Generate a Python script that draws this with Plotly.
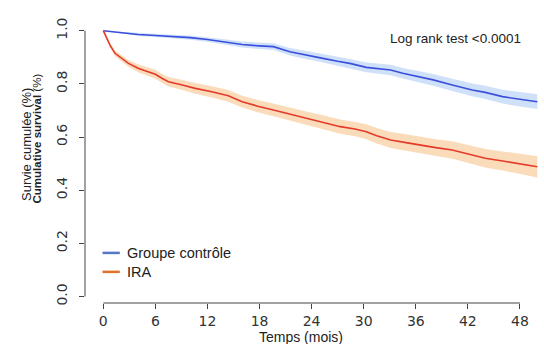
import plotly.graph_objects as go

# ---- data ----
blue_t = [0, 2, 4, 6, 8, 10, 12, 14, 16, 18, 19.6, 21.5, 23, 25.3, 27, 28.4, 30.3, 32,
          33.1, 34.5, 36.4, 38, 40.2, 42.5, 44, 46, 48, 50]
blue_s = [1.0, 0.993, 0.986, 0.982, 0.978, 0.974, 0.967, 0.958, 0.948, 0.943, 0.940, 0.921,
          0.910, 0.896, 0.885, 0.877, 0.862, 0.856, 0.852, 0.840, 0.827, 0.815, 0.796, 0.777,
          0.768, 0.752, 0.742, 0.733]
blue_hw = [0.0, 0.003, 0.005, 0.006, 0.007, 0.008, 0.009, 0.010, 0.011, 0.012, 0.013, 0.014,
           0.015, 0.016, 0.017, 0.017, 0.018, 0.019, 0.020, 0.020, 0.021, 0.022, 0.023, 0.024,
           0.025, 0.026, 0.027, 0.028]

red_t = [0, 0.4, 0.77, 1.35, 2.1, 2.9, 4.07, 5.2, 6.0, 6.75, 7.5, 9.1, 10.6, 12.5, 14.4, 16.0,
         17.8, 19.6, 21.5, 23.5, 25.3, 27.3, 29, 30.3, 31.5, 33.1, 34.7, 36.4, 38.3, 40.2, 42,
         44.0, 46, 48, 50]
red_s = [1.0, 0.970, 0.946, 0.915, 0.896, 0.877, 0.858, 0.846, 0.836, 0.821, 0.808, 0.796,
         0.783, 0.770, 0.755, 0.733, 0.716, 0.702, 0.686, 0.670, 0.656, 0.639, 0.630, 0.620,
         0.605, 0.589, 0.580, 0.570, 0.560, 0.551, 0.537, 0.520, 0.510, 0.498, 0.488]
red_hw = [0.0, 0.006, 0.009, 0.011, 0.012, 0.013, 0.015, 0.016, 0.017, 0.017, 0.018, 0.019,
          0.020, 0.021, 0.022, 0.022, 0.023, 0.024, 0.024, 0.025, 0.026, 0.027, 0.027, 0.028,
          0.029, 0.030, 0.031, 0.031, 0.032, 0.033, 0.034, 0.035, 0.036, 0.038, 0.040]

x_ticks = [0, 6, 12, 18, 24, 30, 36, 42, 48]
y_ticks = [0.0, 0.2, 0.4, 0.6, 0.8, 1.0]
y_ticklabels = ["0.0", "0.2", "0.4", "0.6", "0.8", "1.0"]

groups = [
    ("Groupe contrôle", blue_t, blue_s, blue_hw, "#3B4FDD", "rgba(175,205,245,0.6)", "#5577C8"),
    ("IRA", red_t, red_s, red_hw, "#E53A2A", "rgba(246,196,140,0.6)", "#E0702A"),
]

fig = go.Figure()
for name, t, s, hw, lc, bc, _ in groups:
    lower = [v - h for v, h in zip(s, hw)]
    upper = [v + h for v, h in zip(s, hw)]
    fig.add_trace(go.Scatter(x=t, y=lower, mode="lines", line=dict(width=0),
                             showlegend=False, hoverinfo="skip"))
    fig.add_trace(go.Scatter(x=t, y=upper, mode="lines", line=dict(width=0),
                             fill="tonexty", fillcolor=bc, showlegend=False, hoverinfo="skip"))
for name, t, s, hw, lc, bc, _ in groups:
    fig.add_trace(go.Scatter(x=t, y=s, mode="lines", line=dict(color=lc, width=1.6),
                             name=name, showlegend=False))

axis_col = "#444444"
tick_font = dict(family="DejaVu Sans", size=14, color="#333333")

fig.update_layout(
    width=544, height=344,
    margin=dict(l=85, r=4, t=20, b=41, autoexpand=False),
    paper_bgcolor="white", plot_bgcolor="white",
    xaxis=dict(range=[-2.108, 50.31], tickvals=x_ticks, ticks="outside", ticklen=5,
               tickcolor=axis_col, showgrid=False, zeroline=False, showline=False,
               tickfont=tick_font, automargin=False),
    yaxis=dict(range=[-0.02445, 1.0403], tickvals=y_ticks, ticktext=y_ticklabels,
               ticks="outside", ticklen=5, tickcolor=axis_col, showgrid=False,
               zeroline=False, showline=False, tickangle=-90, tickfont=tick_font,
               ticklabelstandoff=6, automargin=False),
    showlegend=False,
)

# R-style axis lines spanning only the tick range
fig.add_shape(type="line", xref="paper", yref="y", x0=0, x1=0, y0=y_ticks[0], y1=y_ticks[-1],
              line=dict(color=axis_col, width=1))
fig.add_shape(type="line", xref="x", yref="paper", x0=x_ticks[0], x1=x_ticks[-1], y0=0, y1=0,
              line=dict(color=axis_col, width=1))

txt = dict(family="Liberation Sans, Arial, sans-serif", color="#222222")
fig.add_annotation(text="Temps (mois)", xref="paper", yref="paper", x=0.4747, y=-0.120,
                   xanchor="center", yanchor="middle", showarrow=False, font=dict(size=14, **txt))
fig.add_annotation(text="Survie cumulée (%)", xref="paper", yref="paper", x=-0.1297, y=0.5618,
                   textangle=-90, xanchor="center", yanchor="middle", showarrow=False,
                   font=dict(size=13, **txt))
fig.add_annotation(text="<b>Cumulative survival</b> (%)", xref="paper", yref="paper", x=-0.1044,
                   y=0.583, textangle=-90, xanchor="center", yanchor="middle", showarrow=False,
                   font=dict(size=11.5, **txt))
fig.add_annotation(text="Log rank test <0.0001", xref="paper", yref="paper", x=0.9626, y=0.936,
                   xanchor="right", yanchor="middle", showarrow=False, font=dict(size=13.5, **txt))

# manual legend
leg_y = [0.177, 0.110]
for (name, *_rest), ly in zip(groups, leg_y):
    lcol = _rest[-1]
    fig.add_shape(type="line", xref="paper", yref="paper", x0=0.0385, x1=0.0765, y0=ly, y1=ly,
                  line=dict(color=lcol, width=2.5))
    fig.add_annotation(text=name, xref="paper", yref="paper", x=0.0875, y=ly, xanchor="left",
                       yanchor="middle", showarrow=False, font=dict(size=14.5, **txt))

fig.write_html("out.html", config={"displayModeBar": False},
               post_script="document.body.style.margin='0px';")
